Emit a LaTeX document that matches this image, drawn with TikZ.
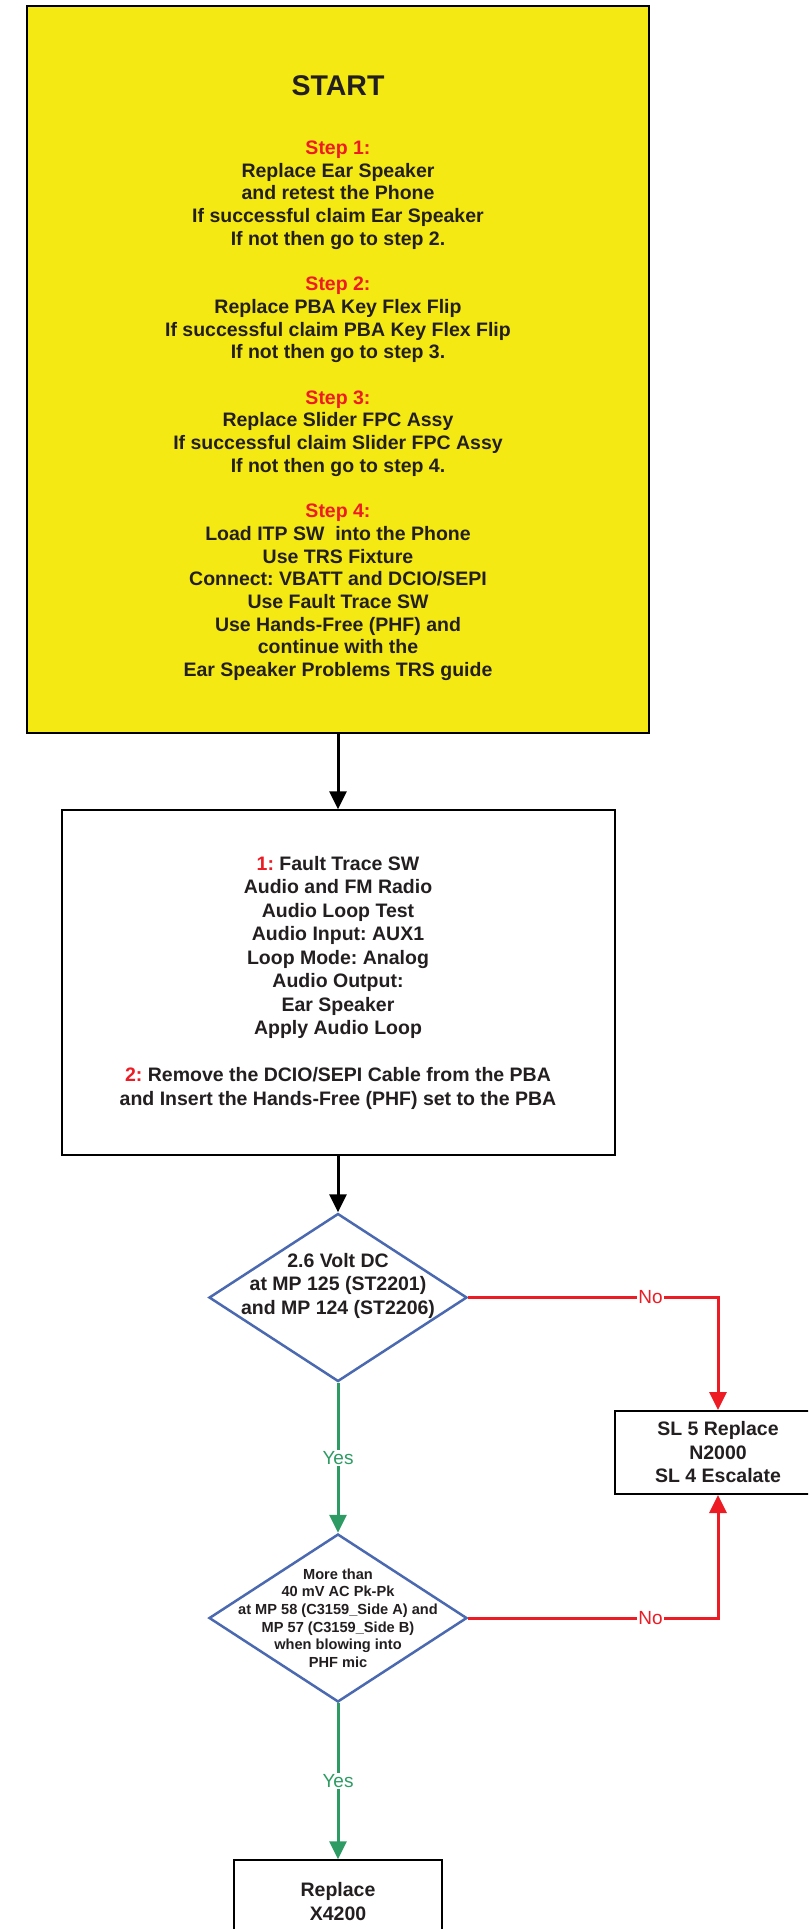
\documentclass[tikz,border=0pt]{standalone}
\usepackage{fontspec}
\setmainfont{Liberation Sans}
\usepackage{tikz}
\usetikzlibrary{arrows.meta,positioning,shapes.geometric}
\definecolor{trs-yellow}{HTML}{F5E914}
\definecolor{trs-red}{HTML}{ED1C24}
\definecolor{trs-blue}{HTML}{4A69B1}
\definecolor{trs-green}{HTML}{2E9B64}
\definecolor{trs-ink}{HTML}{231F20}
\frenchspacing

\begin{document}
\begin{tikzpicture}[
  x=1pt, y=-1pt,
  every node/.style={
    text=trs-ink, font=\bfseries\fontsize{19.5}{23.5}\selectfont
  },
  startbox/.style={
    rectangle, draw=black, line width=2.5pt, fill=trs-yellow,
    minimum width=622pt, minimum height=727pt,
    align=center, inner sep=0pt,
    font=\bfseries\fontsize{19.5}{22.7}\selectfont
  },
  block/.style={
    rectangle, draw=black, line width=2pt, fill=white,
    align=center, inner sep=0pt
  },
  decision/.style={
    diamond, draw=trs-blue, line width=2.5pt, fill=white,
    minimum width=258pt, minimum height=168pt, inner sep=0pt
  },
  dtext/.style={
    align=center, inner sep=0pt
  },
  arrow/.style={
    -{Triangle[length=18pt,width=17pt]}, line width=3pt
  },
  branch/.style={
    font=\fontsize{19}{23}\selectfont, fill=white, inner sep=1.5pt
  }
]
\useasboundingbox (0,0) rectangle (808,1929);
\clip (0,0) rectangle (808,1929);

%% Start instructions
\node[startbox] (start) at (338,369.5) {%
  {\fontsize{28.5}{34}\selectfont\rule{0pt}{37.5pt}START}\\[36pt]
  \textcolor{trs-red}{Step 1:}\\
  Replace Ear Speaker\\
  and retest the Phone\\
  If successful claim Ear Speaker\\
  If not then go to step 2.\\[22.7pt]
  \textcolor{trs-red}{Step 2:}\\
  Replace PBA Key Flex Flip\\
  If successful claim PBA Key Flex Flip\\
  If not then go to step 3.\\[22.7pt]
  \textcolor{trs-red}{Step 3:}\\
  Replace Slider FPC Assy\\
  If successful claim Slider FPC Assy\\
  If not then go to step 4.\\[22.7pt]
  \textcolor{trs-red}{Step 4:}\\
  Load ITP SW~ into the Phone\\
  Use TRS Fixture\\
  Connect: VBATT and DCIO/SEPI\\
  Use Fault Trace SW\\
  Use Hands-Free (PHF) and\\
  continue with the\\
  Ear Speaker Problems TRS guide};

%% Test setup
\node[block, minimum width=553pt, minimum height=345pt, below=75pt of start] (setup) {%
  \textcolor{trs-red}{1:} Fault Trace SW\\
  Audio and FM Radio\\
  Audio Loop Test\\
  Audio Input: AUX1\\
  Loop Mode: Analog\\
  Audio Output:\\
  Ear Speaker\\
  Apply Audio Loop\\[23.5pt]
  \textcolor{trs-red}{2:} Remove the DCIO/SEPI Cable from the PBA\\
  and Insert the Hands-Free (PHF) set to the PBA};

%% Decisions
\node[decision, below=56pt of setup] (volt) {};
\node[dtext, yshift=12pt] (volttxt) at (volt) {2.6 Volt DC\\at MP 125 (ST2201)\\and MP 124 (ST2206)};
\node[decision, below=150pt of volt] (mic) {};
\node[dtext, font=\bfseries\fontsize{14.6}{17.6}\selectfont] (mictxt) at (mic) {%
  More than\\
  40 mV AC Pk-Pk\\
  at MP 58 (C3159\_Side A) and\\
  MP 57 (C3159\_Side B)\\
  when blowing into\\
  PHF mic};

%% Results
\node[block, minimum width=206pt, minimum height=83pt] (escal) at (718,1452.5) {SL 5 Replace\\N2000\\SL 4 Escalate};
\node[block, minimum width=208pt, minimum height=83pt, below=156pt of mic] (xrep) {Replace\\X4200};

%% Arrows
\draw[arrow] (start) -- (setup);
\draw[arrow] (setup) -- (volt);
\draw[arrow, trs-red] (volt.east) -| node[branch, text=trs-red, pos=0.365] {No} (escal.north);
\draw[arrow, trs-green] (volt) -- node[branch, text=trs-green] {Yes} (mic);
\draw[arrow, trs-red] (mic.east) -| node[branch, text=trs-red, pos=0.365] {No} (escal.south);
\draw[arrow, trs-green] (mic) -- node[branch, text=trs-green] {Yes} (xrep);

\end{tikzpicture}
\end{document}
